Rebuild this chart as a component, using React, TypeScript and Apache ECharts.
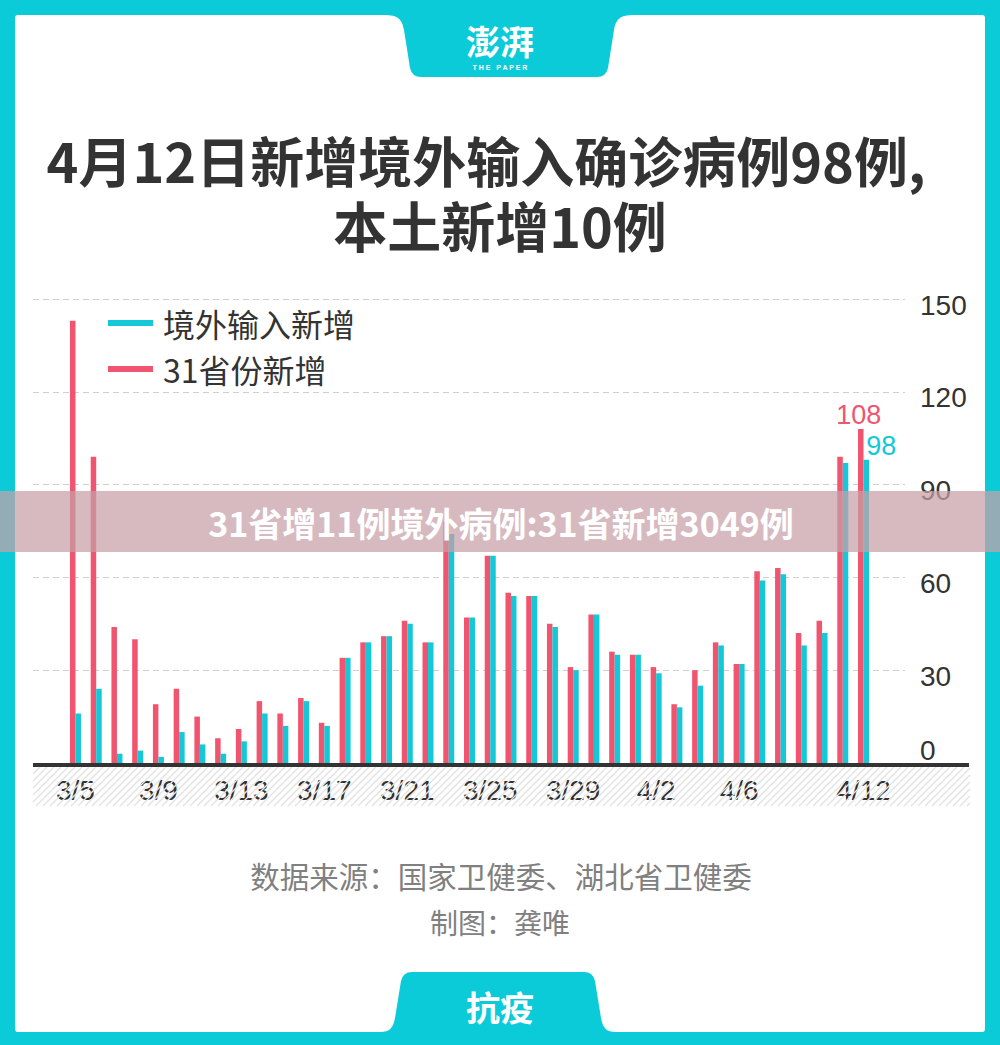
import React, { useEffect, useRef } from "react";
import * as echarts from "echarts";

const dates = [
  "3/5", "3/6", "3/7", "3/8", "3/9", "3/10", "3/11", "3/12", "3/13", "3/14",
  "3/15", "3/16", "3/17", "3/18", "3/19", "3/20", "3/21", "3/22", "3/23", "3/24",
  "3/25", "3/26", "3/27", "3/28", "3/29", "3/30", "3/31", "4/1", "4/2", "4/3",
  "4/4", "4/5", "4/6", "4/7", "4/8", "4/9", "4/10", "4/11", "4/12",
];
const provinceNew = [
  143, 99, 44, 40, 19, 24, 15, 8, 11, 20,
  16, 21, 13, 34, 39, 41, 46, 39, 78, 47,
  67, 55, 54, 45, 31, 48, 36, 35, 31, 19,
  30, 39, 32, 62, 63, 42, 46, 99, 108,
];
const importedNew = [
  16, 24, 3, 4, 2, 10, 6, 3, 7, 16,
  12, 20, 12, 34, 39, 41, 45, 39, 74, 47,
  67, 54, 54, 44, 30, 48, 35, 35, 29, 18,
  25, 38, 32, 59, 61, 38, 42, 97, 98,
];
const yMin = 0;
const yMax = 150;
const yStep = 30;
const seriesNames = ["31省份新增", "境外输入新增"];
const legendOrder = ["境外输入新增", "31省份新增"];
const titleLines = ["4月12日新增境外输入确诊病例98例,", "本土新增10例"];
const sourceLines = ["数据来源：国家卫健委、湖北省卫健委", "制图：龚唯"];
const bannerText = "31省增11例境外病例:31省新增3049例";

const RED = "#F0546E";
const CYAN = "#14C8D7";
const BORDER = "#0CCBD8";
const CJK = "'Noto Sans CJK SC', 'Noto Sans', sans-serif";
const NUM = "'Liberation Sans', Arial, sans-serif";

export default function App() {
  const ref = useRef<HTMLDivElement>(null);

  useEffect(() => {
    const el = ref.current;
    if (!el) return;

    const tabTopD =
      "M 384 15 C 398 15 402 19 404 30 L 410 68 Q 412 77 421 77 L 597 77 Q 606 77 608 68 L 614 30 C 616 19 620 15 634 15 Z";
    const tabBottomD =
      "M 380 1032 C 390 1032 393 1028 395 1018 L 401 981 Q 403 972 412 972 L 584 972 Q 593 972 595 981 L 601 1018 C 603 1028 606 1032 616 1032 Z";
    echarts.graphic.registerShape("tabTop", echarts.graphic.extendPath(tabTopD, {}));
    echarts.graphic.registerShape("tabBottom", echarts.graphic.extendPath(tabBottomD, {}));

    const hatch: any[] = [];
    const hx0 = 33, hx1 = 970, hy0 = 767, hy1 = 806;
    const hh = hy1 - hy0;
    for (let x = hx0 - hh; x < hx1; x += 7) {
      let sx = x, sy = hy1, ex = x + hh, ey = hy0;
      if (sx < hx0) { sy = hy1 - (hx0 - sx); sx = hx0; }
      if (ex > hx1) { ey = hy0 + (ex - hx1); ex = hx1; }
      hatch.push({
        type: "line",
        silent: true,
        z: 5,
        shape: { x1: sx, y1: sy, x2: ex, y2: ey },
        style: { stroke: "#e3e3e3", lineWidth: 1.5 },
      });
    }

    const last = dates.length - 1;
    const chart = echarts.init(el, null, { renderer: "svg" });
    chart.setOption({
      animation: false,
      backgroundColor: BORDER,
      legend: {
        data: legendOrder,
        orient: "vertical",
        left: 103,
        top: 302,
        itemWidth: 45,
        itemHeight: 6,
        itemGap: 14,
        icon: "rect",
        textStyle: { fontSize: 32, color: "#333", fontFamily: CJK, padding: [0, 0, 0, 5] },
      },
      grid: [
        { left: 33, right: 95, top: 299, bottom: 282 },
        { left: 65.1, right: 126.1, top: 299, bottom: 282 },
      ],
      xAxis: [
        { gridIndex: 0, type: "category", data: dates, show: false },
        {
          gridIndex: 1,
          type: "category",
          data: dates,
          axisLine: { show: false },
          axisTick: { show: false },
          axisLabel: {
            interval: (i: number) => (i % 4 === 0 && i <= 32) || i === last,
            fontSize: 28,
            color: "#333",
            margin: 13,
            fontFamily: NUM,
          },
        },
      ],
      yAxis: [
        {
          gridIndex: 0,
          type: "value",
          min: yMin,
          max: yMax,
          interval: yStep,
          position: "right",
          axisLine: { show: false },
          axisTick: { show: false },
          splitLine: { lineStyle: { type: [6, 4], color: "#cfcfcf", width: 1 } },
          axisLabel: {
            margin: 15,
            formatter: (v: number) => (v === 0 ? `{z|${v}}` : `{n|${v}}`),
            rich: {
              z: { padding: [0, 0, 26, 0], fontSize: 28, color: "#333", fontFamily: NUM },
              n: { padding: [12, 0, 0, 0], fontSize: 28, color: "#333", fontFamily: NUM },
            },
          },
        },
        { gridIndex: 1, type: "value", min: yMin, max: yMax, interval: yStep, show: false },
      ],
      series: [
        {
          name: seriesNames[0],
          type: "bar",
          xAxisIndex: 1,
          yAxisIndex: 1,
          barWidth: 5.5,
          barGap: "0%",
          itemStyle: { color: RED },
          data: provinceNew.map((v, i) =>
            i === last
              ? {
                  value: v,
                  label: {
                    show: true,
                    position: "top",
                    distance: 0,
                    offset: [-2, 0],
                    color: RED,
                    fontSize: 27,
                    fontFamily: NUM,
                  },
                }
              : v
          ),
        },
        {
          name: seriesNames[1],
          type: "bar",
          xAxisIndex: 1,
          yAxisIndex: 1,
          barWidth: 5.5,
          barGap: "0%",
          itemStyle: { color: CYAN },
          data: importedNew.map((v, i) =>
            i === last
              ? {
                  value: v,
                  label: {
                    show: true,
                    position: "top",
                    distance: 0,
                    offset: [15, 0],
                    color: CYAN,
                    fontSize: 27,
                    fontFamily: NUM,
                  },
                }
              : v
          ),
        },
      ],
      graphic: [
        {
          type: "rect",
          z: -10,
          silent: true,
          shape: { x: 15, y: 15, width: 970, height: 1017, r: 3 },
          style: { fill: "#ffffff" },
        },
        { type: "tabTop", z: -5, silent: true, x: 0, y: 0, style: { fill: BORDER } },
        { type: "tabBottom", z: -5, silent: true, x: 0, y: 0, style: { fill: BORDER } },
        {
          type: "text",
          silent: true,
          x: 500,
          y: 40,
          style: {
            text: "澎湃",
            fill: "#fff",
            font: `bold 34px ${CJK}`,
            textAlign: "center",
            textVerticalAlign: "middle",
          },
        },
        {
          type: "text",
          silent: true,
          x: 500,
          y: 67,
          style: {
            text: "T H E   P A P E R",
            fill: "#fff",
            font: `bold 7px ${NUM}`,
            textAlign: "center",
            textVerticalAlign: "middle",
          },
        },
        {
          type: "text",
          silent: true,
          x: 486,
          y: 192,
          style: {
            text: `{a|${titleLines[0]}}\n{b|${titleLines[1]}}`,
            textAlign: "center",
            textVerticalAlign: "middle",
            rich: {
              a: {
                fontSize: 54,
                fontWeight: "bold",
                fontFamily: CJK,
                fill: "#333",
                lineHeight: 65,
              },
              b: {
                fontSize: 54,
                fontWeight: "bold",
                fontFamily: CJK,
                fill: "#333",
                lineHeight: 65,
                padding: [0, 0, 0, 28],
              },
            },
          },
        },
        ...hatch,
        {
          type: "line",
          silent: true,
          z: 20,
          shape: { x1: 33, y1: 765, x2: 969, y2: 765 },
          style: { stroke: "#333", lineWidth: 4 },
        },
        {
          type: "text",
          silent: true,
          x: 501,
          y: 875,
          style: {
            text: sourceLines[0],
            fill: "#808080",
            font: `29.5px ${CJK}`,
            textAlign: "center",
            textVerticalAlign: "middle",
          },
        },
        {
          type: "text",
          silent: true,
          x: 500,
          y: 922,
          style: {
            text: sourceLines[1],
            fill: "#808080",
            font: `28px ${CJK}`,
            textAlign: "center",
            textVerticalAlign: "middle",
          },
        },
        {
          type: "text",
          silent: true,
          x: 500,
          y: 1006,
          style: {
            text: "抗疫",
            fill: "#fff",
            font: `bold 34px ${CJK}`,
            textAlign: "center",
            textVerticalAlign: "middle",
          },
        },
        {
          type: "rect",
          silent: true,
          z: 100,
          shape: { x: 0, y: 491, width: 1000, height: 61 },
          style: { fill: "rgba(199,160,167,0.72)" },
        },
        {
          type: "text",
          silent: true,
          z: 101,
          x: 501,
          y: 522,
          style: {
            text: bannerText,
            fill: "#fff",
            font: `bold 34px ${CJK}`,
            textAlign: "center",
            textVerticalAlign: "middle",
          },
        },
      ],
    });

    return () => {
      chart.dispose();
    };
  }, []);

  return (
    <div
      ref={ref}
      style={{ position: "absolute", left: 0, top: 0, width: 1000, height: 1045 }}
    />
  );
}
